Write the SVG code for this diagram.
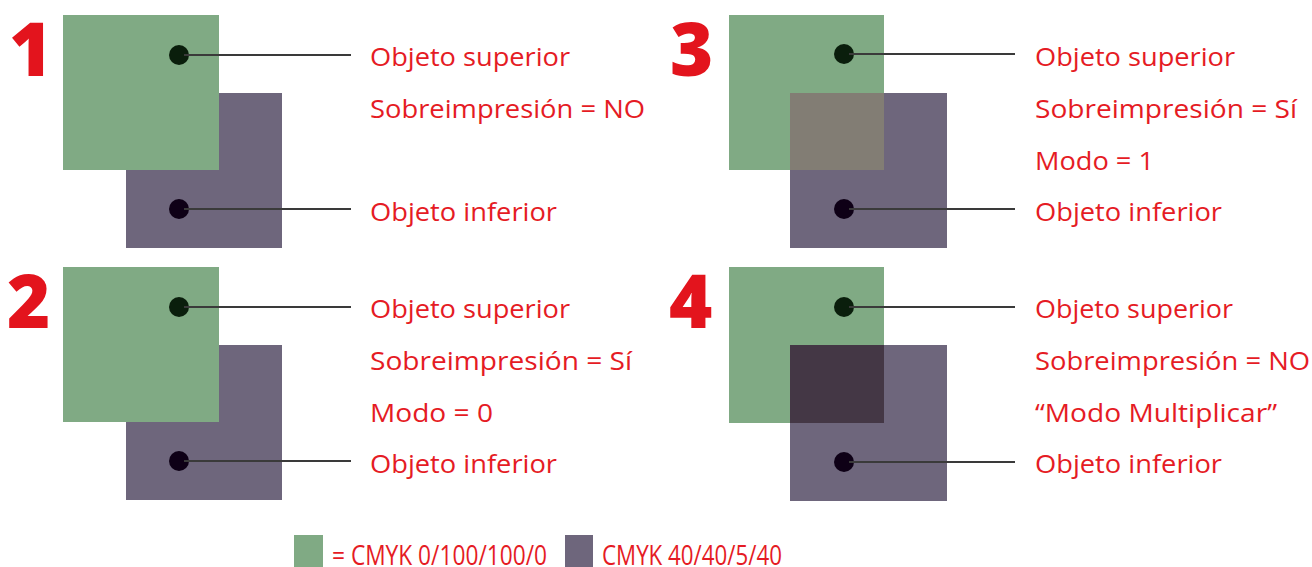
<svg xmlns="http://www.w3.org/2000/svg" width="1312" height="567" viewBox="0 0 1312 567">
<style>
.g{fill:#80aa84}
.p{fill:#6e667c}
.dg{fill:#0a1e0c}
.dp{fill:#0e0016}
.ln{stroke:#3a3a3a;stroke-width:2.2;fill:none}
.t{font-family:"Open Sans",sans-serif;font-size:25.5px;fill:#e51b24}
.lg{font-size:27px}
.n{font-family:"Open Sans",sans-serif;font-size:74px;font-weight:800;fill:#e3141d}
</style>
<rect width="1312" height="567" fill="#fff"/>
<g id="panel1">
<text class="n" x="9" y="76">1</text>
<rect class="p" x="126" y="93" width="156" height="155"/>
<rect class="g" x="63" y="15" width="156" height="155"/>
<circle class="dg" cx="179" cy="55" r="10"/>
<circle class="dp" cx="179" cy="209" r="10"/>
<text class="t" x="370" y="66" textLength="200" lengthAdjust="spacingAndGlyphs">Objeto superior</text>
<text class="t" x="370" y="118" textLength="275" lengthAdjust="spacingAndGlyphs">Sobreimpresión = NO</text>
<text class="t" x="370" y="221" textLength="187" lengthAdjust="spacingAndGlyphs">Objeto inferior</text>
</g>
<g id="panel2">
<text class="n" x="7" y="328">2</text>
<rect class="p" x="126" y="345" width="156" height="155"/>
<rect class="g" x="63" y="267" width="156" height="155"/>
<circle class="dg" cx="179" cy="307" r="10"/>
<circle class="dp" cx="179" cy="461" r="10"/>
<text class="t" x="370" y="318" textLength="200" lengthAdjust="spacingAndGlyphs">Objeto superior</text>
<text class="t" x="370" y="370" textLength="262" lengthAdjust="spacingAndGlyphs">Sobreimpresión = Sí</text>
<text class="t" x="370" y="422" textLength="123" lengthAdjust="spacingAndGlyphs">Modo = 0</text>
<text class="t" x="370" y="473" textLength="187" lengthAdjust="spacingAndGlyphs">Objeto inferior</text>
</g>
<g id="panel3">
<text class="n" x="670" y="76">3</text>
<rect class="p" x="790" y="93" width="157" height="155"/>
<rect class="g" x="729" y="15" width="155" height="155"/>
<rect fill="#827d74" x="790" y="93" width="94" height="77"/>
<circle class="dg" cx="844" cy="54" r="10"/>
<circle class="dp" cx="844" cy="209" r="10"/>
<text class="t" x="1035" y="66" textLength="200" lengthAdjust="spacingAndGlyphs">Objeto superior</text>
<text class="t" x="1035" y="118" textLength="262" lengthAdjust="spacingAndGlyphs">Sobreimpresión = Sí</text>
<text class="t" x="1035" y="170" textLength="119" lengthAdjust="spacingAndGlyphs">Modo = 1</text>
<text class="t" x="1035" y="221" textLength="187" lengthAdjust="spacingAndGlyphs">Objeto inferior</text>
</g>
<g id="panel4">
<text class="n" x="669" y="328">4</text>
<rect class="p" x="790" y="345" width="157" height="156"/>
<rect class="g" x="729" y="267" width="155" height="156"/>
<rect fill="#443745" x="790" y="345" width="94" height="78"/>
<circle class="dg" cx="844" cy="307" r="10"/>
<circle class="dp" cx="844" cy="462" r="10"/>
<text class="t" x="1035" y="318" textLength="198" lengthAdjust="spacingAndGlyphs">Objeto superior</text>
<text class="t" x="1035" y="370" textLength="275" lengthAdjust="spacingAndGlyphs">Sobreimpresión = NO</text>
<text class="t" x="1035" y="422" textLength="242" lengthAdjust="spacingAndGlyphs">“Modo Multiplicar”</text>
<text class="t" x="1035" y="473" textLength="187" lengthAdjust="spacingAndGlyphs">Objeto inferior</text>
</g>
<g id="connectors">
<line class="ln" x1="184" y1="55" x2="351" y2="55"/>
<line class="ln" x1="184" y1="209" x2="351" y2="209"/>
<line class="ln" x1="184" y1="307" x2="351" y2="307"/>
<line class="ln" x1="184" y1="461" x2="351" y2="461"/>
<line class="ln" x1="849" y1="54" x2="1015" y2="54"/>
<line class="ln" x1="849" y1="209" x2="1015" y2="209"/>
<line class="ln" x1="849" y1="307" x2="1015" y2="307"/>
<line class="ln" x1="849" y1="462" x2="1015" y2="462"/>
</g>
<g id="legend">
<rect class="g" x="294" y="535" width="29" height="32"/>
<text class="t lg" x="332" y="565" textLength="215" lengthAdjust="spacingAndGlyphs">= CMYK 0/100/100/0</text>
<rect class="p" x="565" y="535" width="28" height="32"/>
<text class="t lg" x="602" y="565" textLength="180" lengthAdjust="spacingAndGlyphs">CMYK 40/40/5/40</text>
</g>
</svg>
